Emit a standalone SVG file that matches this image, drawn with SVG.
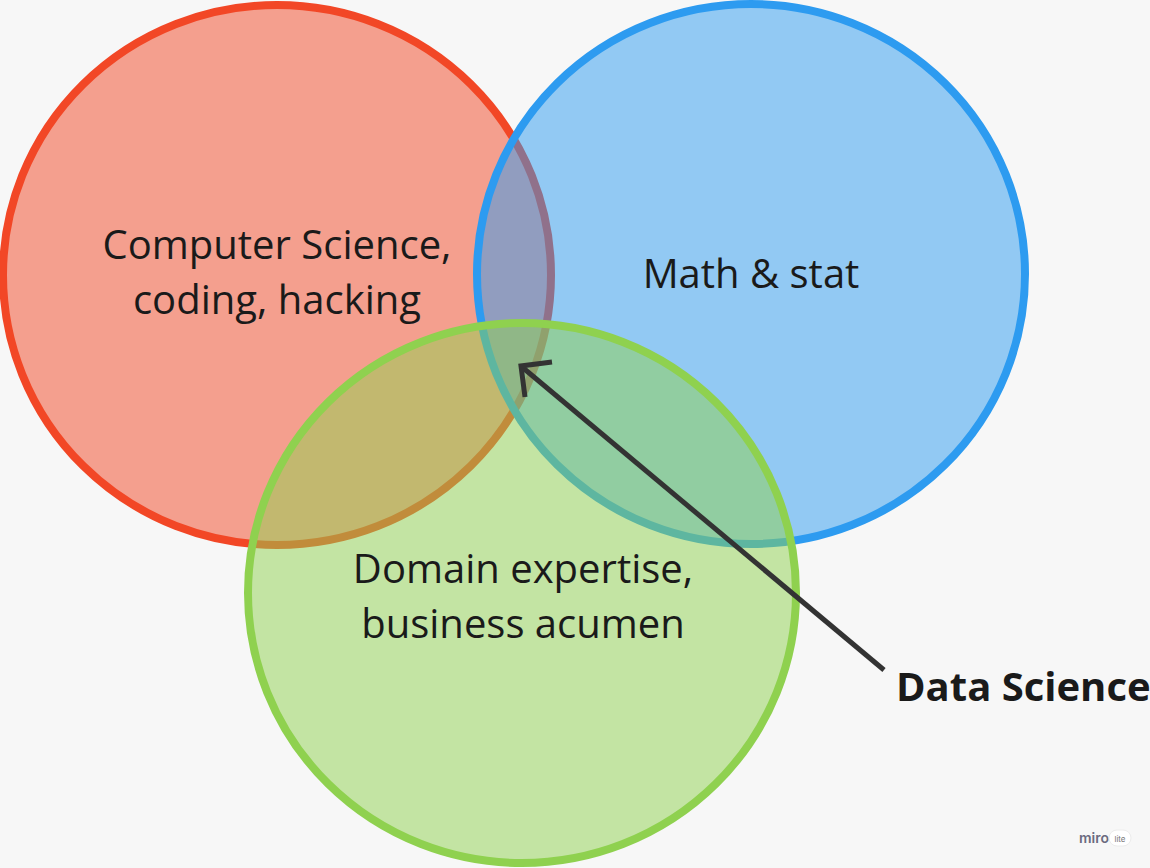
<svg xmlns="http://www.w3.org/2000/svg" width="1150" height="868" viewBox="0 0 1150 868">
<style>
.lbl{font-family:"Open Sans","Noto Sans","Liberation Sans",sans-serif;font-size:40px;fill:#1a1a1a;text-anchor:middle}
.ds{font-family:"Open Sans","Noto Sans","Liberation Sans",sans-serif;font-size:40px;font-weight:bold;fill:#1a1a1a}
.c{stroke-width:8}
</style>
<rect width="1150" height="868" fill="#f7f7f7"/>
<g id="cs">
<ellipse class="c" cx="277" cy="275" rx="274" ry="270" fill="#f24726" fill-opacity="0.5" stroke="#f24726"/>
<text class="lbl" x="277" y="259">Computer Science,</text>
<text class="lbl" x="277" y="314">coding, hacking</text>
</g>
<g id="math">
<ellipse class="c" cx="751" cy="274" rx="274" ry="270" fill="#2d9bf0" fill-opacity="0.5" stroke="#2d9bf0"/>
<text class="lbl" x="751" y="288">Math &amp; stat</text>
</g>
<g id="domain">
<ellipse class="c" cx="522" cy="593" rx="274" ry="270" fill="#8fd14f" fill-opacity="0.5" stroke="#8fd14f"/>
<text class="lbl" x="523" y="583">Domain expertise,</text>
<text class="lbl" x="523" y="638">business acumen</text>
</g>
<g id="connectors" fill="none" stroke="#333333" stroke-width="5" stroke-linecap="butt">
<line x1="884" y1="670" x2="522" y2="367"/>
<polyline points="552,362 521,366 525,397"/>
</g>
<g id="datascience">
<text class="ds" x="896" y="701">Data Science</text>
</g>
<g id="watermark">
<text x="1079" y="843" font-family="Inter,'Liberation Sans',sans-serif" font-size="14" font-weight="600" fill="#6b6b80">miro</text>
<rect x="1109" y="830" width="22" height="16" rx="8" fill="#ffffff" stroke="#ececec"/>
<text x="1120" y="841.5" text-anchor="middle" font-family="Inter,'Liberation Sans',sans-serif" font-size="8" fill="#777">lite</text>
</g>
</svg>
